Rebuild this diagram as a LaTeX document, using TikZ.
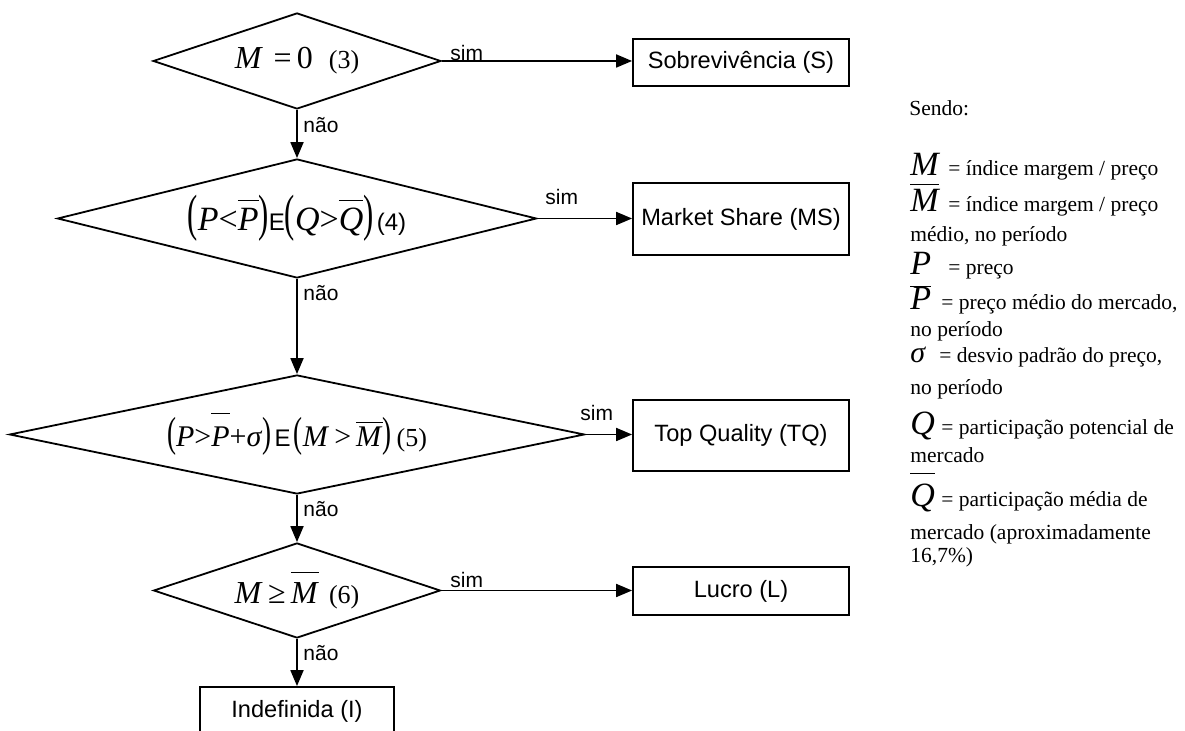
\documentclass[tikz,border=0pt]{standalone}
\usepackage{fontspec}
\usepackage{graphicx}
\setmainfont{Liberation Serif}
\newfontfamily\arialfont{Liberation Sans}
\usetikzlibrary{shapes.geometric,arrows.meta}

\newcommand{\ovl}[2][2pt]{\vbox{\hrule height 0.6pt\kern#1\hbox{#2}}}
\newcommand{\lpar}[1]{\scalebox{0.9}[#1]{(}}
\newcommand{\rpar}[1]{\scalebox{0.9}[#1]{)}}
\newcommand{\sans}[1]{{\arialfont\fontsize{12}{14}\selectfont#1}}
\newcommand{\condno}[1]{{\fontsize{13}{14}\selectfont#1}}

\begin{document}
\begin{tikzpicture}[x=0.5pt, y=-0.5pt,
    decision/.style={diamond, draw, line width=0.9pt, inner sep=0pt},
    outcome/.style={draw, line width=0.9pt, inner sep=0pt, minimum width=108pt,
        font=\arialfont\fontsize{11.8}{14}\selectfont},
    flow/.style={line width=0.9pt, -{Triangle[length=8pt, width=6.5pt]}},
    answer/.style={anchor=west, inner sep=0pt, font=\arialfont\fontsize{10.5}{12}\selectfont},
    legend/.style={anchor=base west, inner sep=0pt, font=\fontsize{10.75}{12}\selectfont},
    symbol/.style={anchor=base west, inner sep=0pt, font=\itshape\fontsize{17}{18}\selectfont}]
    \useasboundingbox (0,0) rectangle (1185,731);

    \node[decision, aspect=3, minimum width=144pt, minimum height=48pt] (qzero) at (297,61)
        {\fontsize{16}{17}\selectfont\textit{M}\,\,=\,0\ \ \condno{(3)}};
    \node[decision, aspect=4.03, minimum width=239.5pt, minimum height=59.5pt] (qshare) at (297,218.5)
        {{\fontsize{17}{18}\selectfont\lpar{1.5}\textit{P}<\ovl[3.5pt]{\textit{P}}\rpar{1.5}}\sans{E}%
         {\fontsize{17}{18}\selectfont\lpar{1.5}\textit{Q}>\ovl[3.5pt]{\textit{Q}}\rpar{1.5}}\,\sans{(4)}};
    \node[decision, aspect=4.83, minimum width=287.5pt, minimum height=59.5pt] (qquality) at (297,434.5)
        {{\fontsize{15}{16}\selectfont\lpar{1.4}\textit{P}>\ovl[6.5pt]{\textit{P}}+\textit{σ}\rpar{1.4}}\,\sans{E}\,%
         {\fontsize{15}{16}\selectfont\lpar{1.4}\textit{M}\,>\,\ovl[2pt]{\textit{M}}\rpar{1.4}}\ \condno{(5)}};
    \node[decision, aspect=3.02, minimum width=143.5pt, minimum height=47.5pt] (qprofit) at (297,590.5)
        {{\fontsize{16}{17}\selectfont\textit{M}\,≥\,\ovl[5pt]{\textit{M}}}\ \ \condno{(6)}};

    \node[outcome, minimum height=23.5pt] (sobrev) at (741,62.5) {Sobrevivência (S)};
    \node[outcome, minimum height=36pt] (mshare) at (741,219) {Market Share (MS)};
    \node[outcome, minimum height=35.5pt] (tquality) at (741,435.5) {Top Quality (TQ)};
    \node[outcome, minimum height=24pt] (profit) at (741,591) {Lucro (L)};
    \node[outcome, minimum width=97pt, minimum height=24pt] (indef) at (297,711) {Indefinida (I)};

    \draw[flow] (qzero.east) -- (qzero.east -| sobrev.west);
    \draw[flow] (qshare.east) -- (qshare.east -| mshare.west);
    \draw[flow] (qquality.east) -- (qquality.east -| tquality.west);
    \draw[flow] (qprofit.east) -- (qprofit.east -| profit.west);
    \draw[flow] (qzero.south) -- (qshare.north);
    \draw[flow] (qshare.south) -- (qquality.north);
    \draw[flow] (qquality.south) -- (qprofit.north);
    \draw[flow] (qprofit.south) -- (indef.north);

    \node[answer] (sim1) at (450,53) {sim};
    \node[answer] (sim2) at (545,197) {sim};
    \node[answer] (sim3) at (580,413) {sim};
    \node[answer] (sim4) at (450,580) {sim};
    \node[answer] (nao1) at (303,125) {não};
    \node[answer] (nao2) at (303,293) {não};
    \node[answer] (nao3) at (303,509) {não};
    \node[answer] (nao4) at (303,653) {não};

    \node[legend] (sendo) at (909,116) {Sendo:};
    \node[symbol] (symM) at (910,176) {M};
    \node[legend] (txtM) at (948,176) {= índice margem / preço};
    \node[symbol] (symMbar) at (910,212) {\ovl[2.5pt]{M}};
    \node[legend] (txtMbar) at (948,212) {= índice margem / preço};
    \node[legend] (txtMbar2) at (910,242) {médio, no período};
    \node[symbol] (symP) at (910,275) {P};
    \node[legend] (txtP) at (948,275) {= preço};
    \node[symbol] (symPbar) at (910,310) {\ovl[0.5pt]{P}};
    \node[legend] (txtPbar) at (941,310) {= preço médio do mercado,};
    \node[legend] (txtPbar2) at (910,337) {no período};
    \node[symbol, font=\itshape\fontsize{15}{15}\selectfont] (symS) at (910,363) {σ};
    \node[legend] (txtS) at (939,363) {= desvio padrão do preço,};
    \node[legend] (txtS2) at (910,395) {no período};
    \node[symbol] (symQ) at (910,435) {Q};
    \node[legend] (txtQ) at (941,435) {= participação potencial de};
    \node[legend] (txtQ2) at (910,463) {mercado};
    \node[symbol] (symQbar) at (910,507) {\ovl[5pt]{Q}};
    \node[legend] (txtQbar) at (941,507) {= participação média de};
    \node[legend] (txtQbar2) at (910,540) {mercado (aproximadamente};
    \node[legend] (txtQbar3) at (910,563) {16,7\%)};
\end{tikzpicture}
\end{document}
